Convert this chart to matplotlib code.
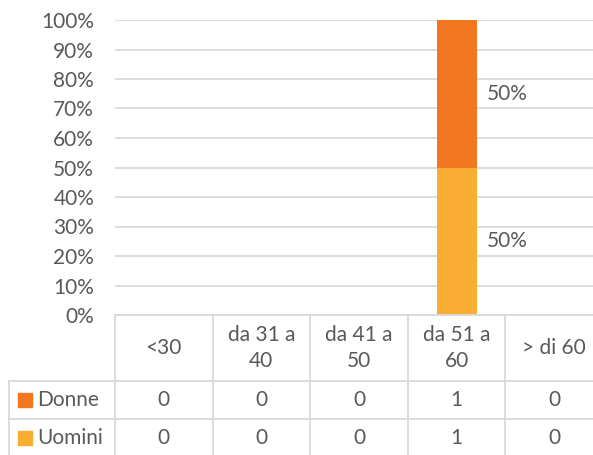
import numpy as np
import matplotlib.pyplot as plt

categorie = ['<30', 'da 31 a\n40', 'da 41 a\n50', 'da 51 a\n60', '> di 60']
donne = [0, 0, 0, 1, 0]
uomini = [0, 0, 0, 1, 0]
colori = {'Donne': '#F37721', 'Uomini': '#F9AE33'}

plt.rcParams['font.family'] = ['Lato', 'DejaVu Sans']
grigio = '#595959'
linea = '#D9D9D9'
fs = 15

W, H = 593, 455
fig = plt.figure(figsize=(W / 100, H / 100), dpi=100)

# plot area in pixels (the right edge runs past the figure)
x0, x1 = 115, 603
y_top, y_bot = 20, 315
ax = fig.add_axes([x0 / W, 1 - y_bot / H, (x1 - x0) / W, (y_bot - y_top) / H])

x = np.arange(len(categorie))
tot = np.array(donne) + np.array(uomini)
quota_u = np.divide(uomini, tot, out=np.zeros(len(tot)), where=tot > 0)
quota_d = np.divide(donne, tot, out=np.zeros(len(tot)), where=tot > 0)

larg = 0.41
ax.bar(x, quota_u, larg, color=colori['Uomini'], zorder=3)
ax.bar(x, quota_d, larg, bottom=quota_u, color=colori['Donne'], zorder=3)

for i in range(len(x)):
    if tot[i] == 0:
        continue
    ax.text(x[i] + larg / 2 + 0.1, quota_u[i] / 2, '%.0f%%' % (quota_u[i] * 100),
            ha='left', va='center', fontsize=fs, color=grigio)
    ax.text(x[i] + larg / 2 + 0.1, quota_u[i] + quota_d[i] / 2, '%.0f%%' % (quota_d[i] * 100),
            ha='left', va='center', fontsize=fs, color=grigio)

ax.set_xlim(-0.5, len(categorie) - 0.5)
ax.set_ylim(0, 1)
ax.set_yticks(np.arange(0, 1.01, 0.1))
ax.set_yticklabels(['%d%%' % round(v * 100) for v in np.arange(0, 1.01, 0.1)])
ax.tick_params(axis='y', length=0, pad=15, labelsize=fs, labelcolor=grigio)
ax.set_xticks([])
ax.grid(axis='y', color=linea, linewidth=1.3, zorder=0)
for s in ax.spines.values():
    s.set_visible(False)

# data table underneath, same column scale as the plot
tab = fig.add_axes([x0 / W, 0, (x1 - x0) / W, (H - y_bot) / H])
tab.set_xlim(-0.5, len(categorie) - 0.5)
tab.set_ylim(H - y_bot, 0)
tab.axis('off')

col_px = (x1 - x0) / len(categorie)
leg_left = -0.5 - (x0 - 9) / col_px
r_head, r1, r2 = 66, 104, 142
kw = dict(color=linea, linewidth=1.3, clip_on=False)

tab.plot([-0.5, len(categorie) - 0.5], [0, 0], **kw)
tab.plot([leg_left, len(categorie) - 0.5], [r_head, r_head], **kw)
tab.plot([leg_left, len(categorie) - 0.5], [r1, r1], **kw)
for b in np.arange(len(categorie) + 1) - 0.5:
    tab.plot([b, b], [0, r2], **kw)
tab.plot([leg_left, leg_left], [r_head, r2], **kw)

for i, c in enumerate(categorie):
    tab.text(i, r_head / 2, c, ha='center', va='center', fontsize=fs,
             color=grigio, linespacing=1.4)

righe = [('Donne', donne, (r_head + r1) / 2), ('Uomini', uomini, (r1 + r2) / 2)]
for nome, vals, yc in righe:
    tab.plot(leg_left + 0.165, yc, marker='s', markersize=10, color=colori[nome],
             clip_on=False)
    tab.text(leg_left + 0.285, yc, nome, ha='left', va='center', fontsize=fs,
             color=grigio, clip_on=False)
    for i, v in enumerate(vals):
        tab.text(i, yc, str(v), ha='center', va='center', fontsize=fs, color=grigio)

fig.savefig('out.png', dpi=100)
